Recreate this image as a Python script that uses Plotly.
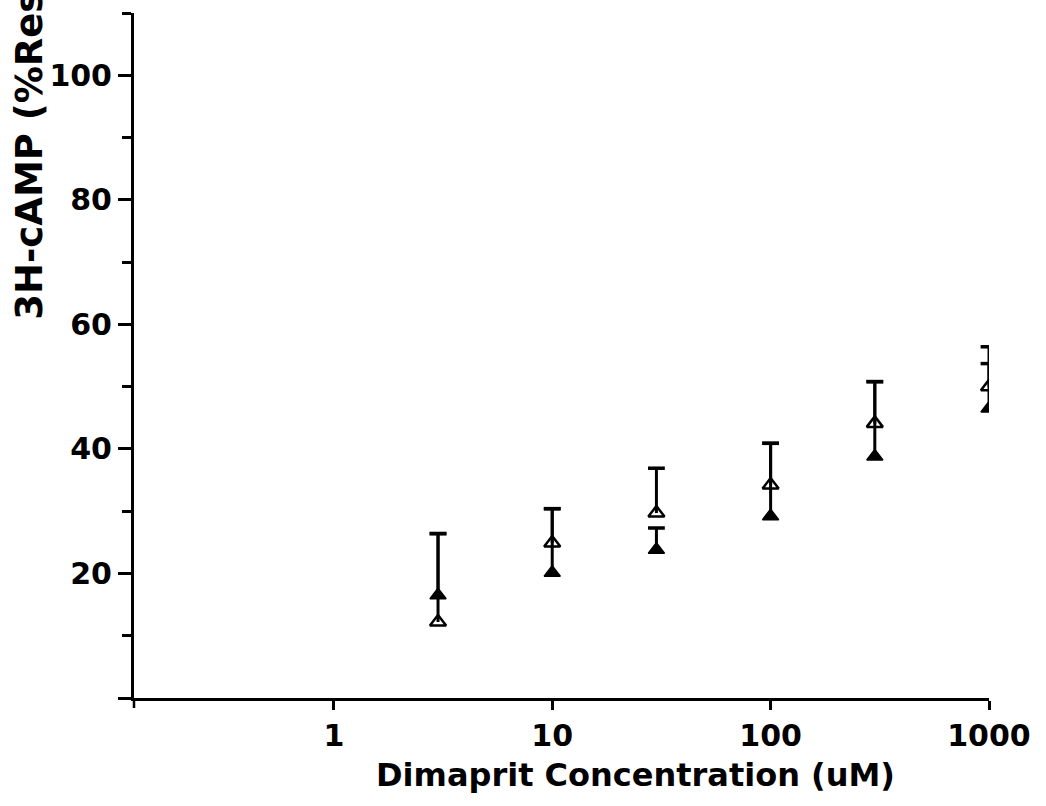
import plotly.graph_objects as go

# Dimaprit doses (uM) and 3H-cAMP responses
dose_um = [3, 10, 30, 100, 300, 1000]
open_mean = [12.2, 24.9, 29.7, 34.2, 44.1, 50.0]
open_err = [14.2, 5.5, 7.2, 6.7, 6.7, 6.4]
filled_mean = [16.5, 20.1, 23.8, 29.2, 38.8, 46.5]
filled_err = [9.9, 10.3, 3.5, 11.7, 12.0, 7.2]

x_tick_vals = [1, 10, 100, 1000]
x_tick_text = ["1", "10", "100", "1000"]
y_tick_vals = [0, 20, 40, 60, 80, 100]
y_tick_text = ["", "20", "40", "60", "80", "100"]
y_minor_vals = [10, 30, 50, 70, 90, 110]

FONT = "DejaVu Sans"
INK = "black"

fig = go.Figure()


def upper_bars(x, mean, err):
    """Upward-only error bars: stems as one broken line, caps as markers."""
    xs, ys = [], []
    for xi, m, e in zip(x, mean, err):
        xs += [xi, xi, None]
        ys += [m, m + e, None]
    tops = [m + e for m, e in zip(mean, err)]
    stems = go.Scatter(x=xs, y=ys, mode="lines",
                       line=dict(color=INK, width=3),
                       showlegend=False, hoverinfo="skip")
    caps = go.Scatter(x=list(x), y=tops, mode="markers",
                      marker=dict(symbol="line-ew", size=12,
                                  line=dict(width=3.5, color=INK)),
                      showlegend=False, hoverinfo="skip")
    return stems, caps


for tr in upper_bars(dose_um, filled_mean, filled_err):
    fig.add_trace(tr)
for tr in upper_bars(dose_um, open_mean, open_err):
    fig.add_trace(tr)

# filled triangles
fig.add_trace(go.Scatter(
    x=dose_um, y=filled_mean, mode="markers",
    marker=dict(symbol="triangle-up", size=14, color=INK,
                line=dict(width=1.5, color=INK)),
    showlegend=False,
))

# open triangles
fig.add_trace(go.Scatter(
    x=dose_um, y=open_mean, mode="markers",
    marker=dict(symbol="triangle-up-open", size=14, color=INK,
                line=dict(width=2.5, color=INK)),
    showlegend=False,
))

fig.update_xaxes(
    type="log", range=[-0.915, 3.0],
    showline=True, linecolor=INK, linewidth=3,
    showgrid=False, zeroline=False,
    ticks="outside", ticklen=9, tickwidth=2.5, tickcolor=INK,
    tickvals=x_tick_vals, ticktext=x_tick_text,
    tickfont=dict(family=FONT, size=30, color=INK, weight="bold"),
)

fig.update_yaxes(
    range=[0, 110],
    showline=True, linecolor=INK, linewidth=3,
    showgrid=False, zeroline=False,
    ticks="outside", ticklen=13, tickwidth=2.5, tickcolor=INK,
    tickvals=y_tick_vals, ticktext=y_tick_text,
    tickfont=dict(family=FONT, size=30, color=INK, weight="bold"),
    minor=dict(tickvals=y_minor_vals, ticks="outside", ticklen=9,
               tickwidth=2.5, tickcolor=INK, showgrid=False),
)

# short downward tick at the axis corner
fig.add_shape(type="line", xref="x domain", yref="y domain",
              x0=0, x1=0, y0=0, y1=-10 / 685,
              line=dict(color=INK, width=2.5))

fig.add_annotation(
    text="Dimaprit Concentration (uM)",
    xref="paper", yref="paper", x=0.587, y=-0.113,
    xanchor="center", yanchor="middle", showarrow=False,
    font=dict(family=FONT, size=32, color=INK, weight="bold"),
)

fig.add_annotation(
    text="3H-cAMP (%Response)",
    xref="paper", yref="paper", x=-0.1225, y=0.549,
    xanchor="center", yanchor="bottom", showarrow=False, textangle=-90,
    font=dict(family=FONT, size=37, color=INK, weight="bold"),
)

fig.update_layout(
    width=1046, height=806,
    margin=dict(l=134, r=57, t=13, b=108),
    paper_bgcolor="white", plot_bgcolor="white",
)

fig.write_html("out.html")
